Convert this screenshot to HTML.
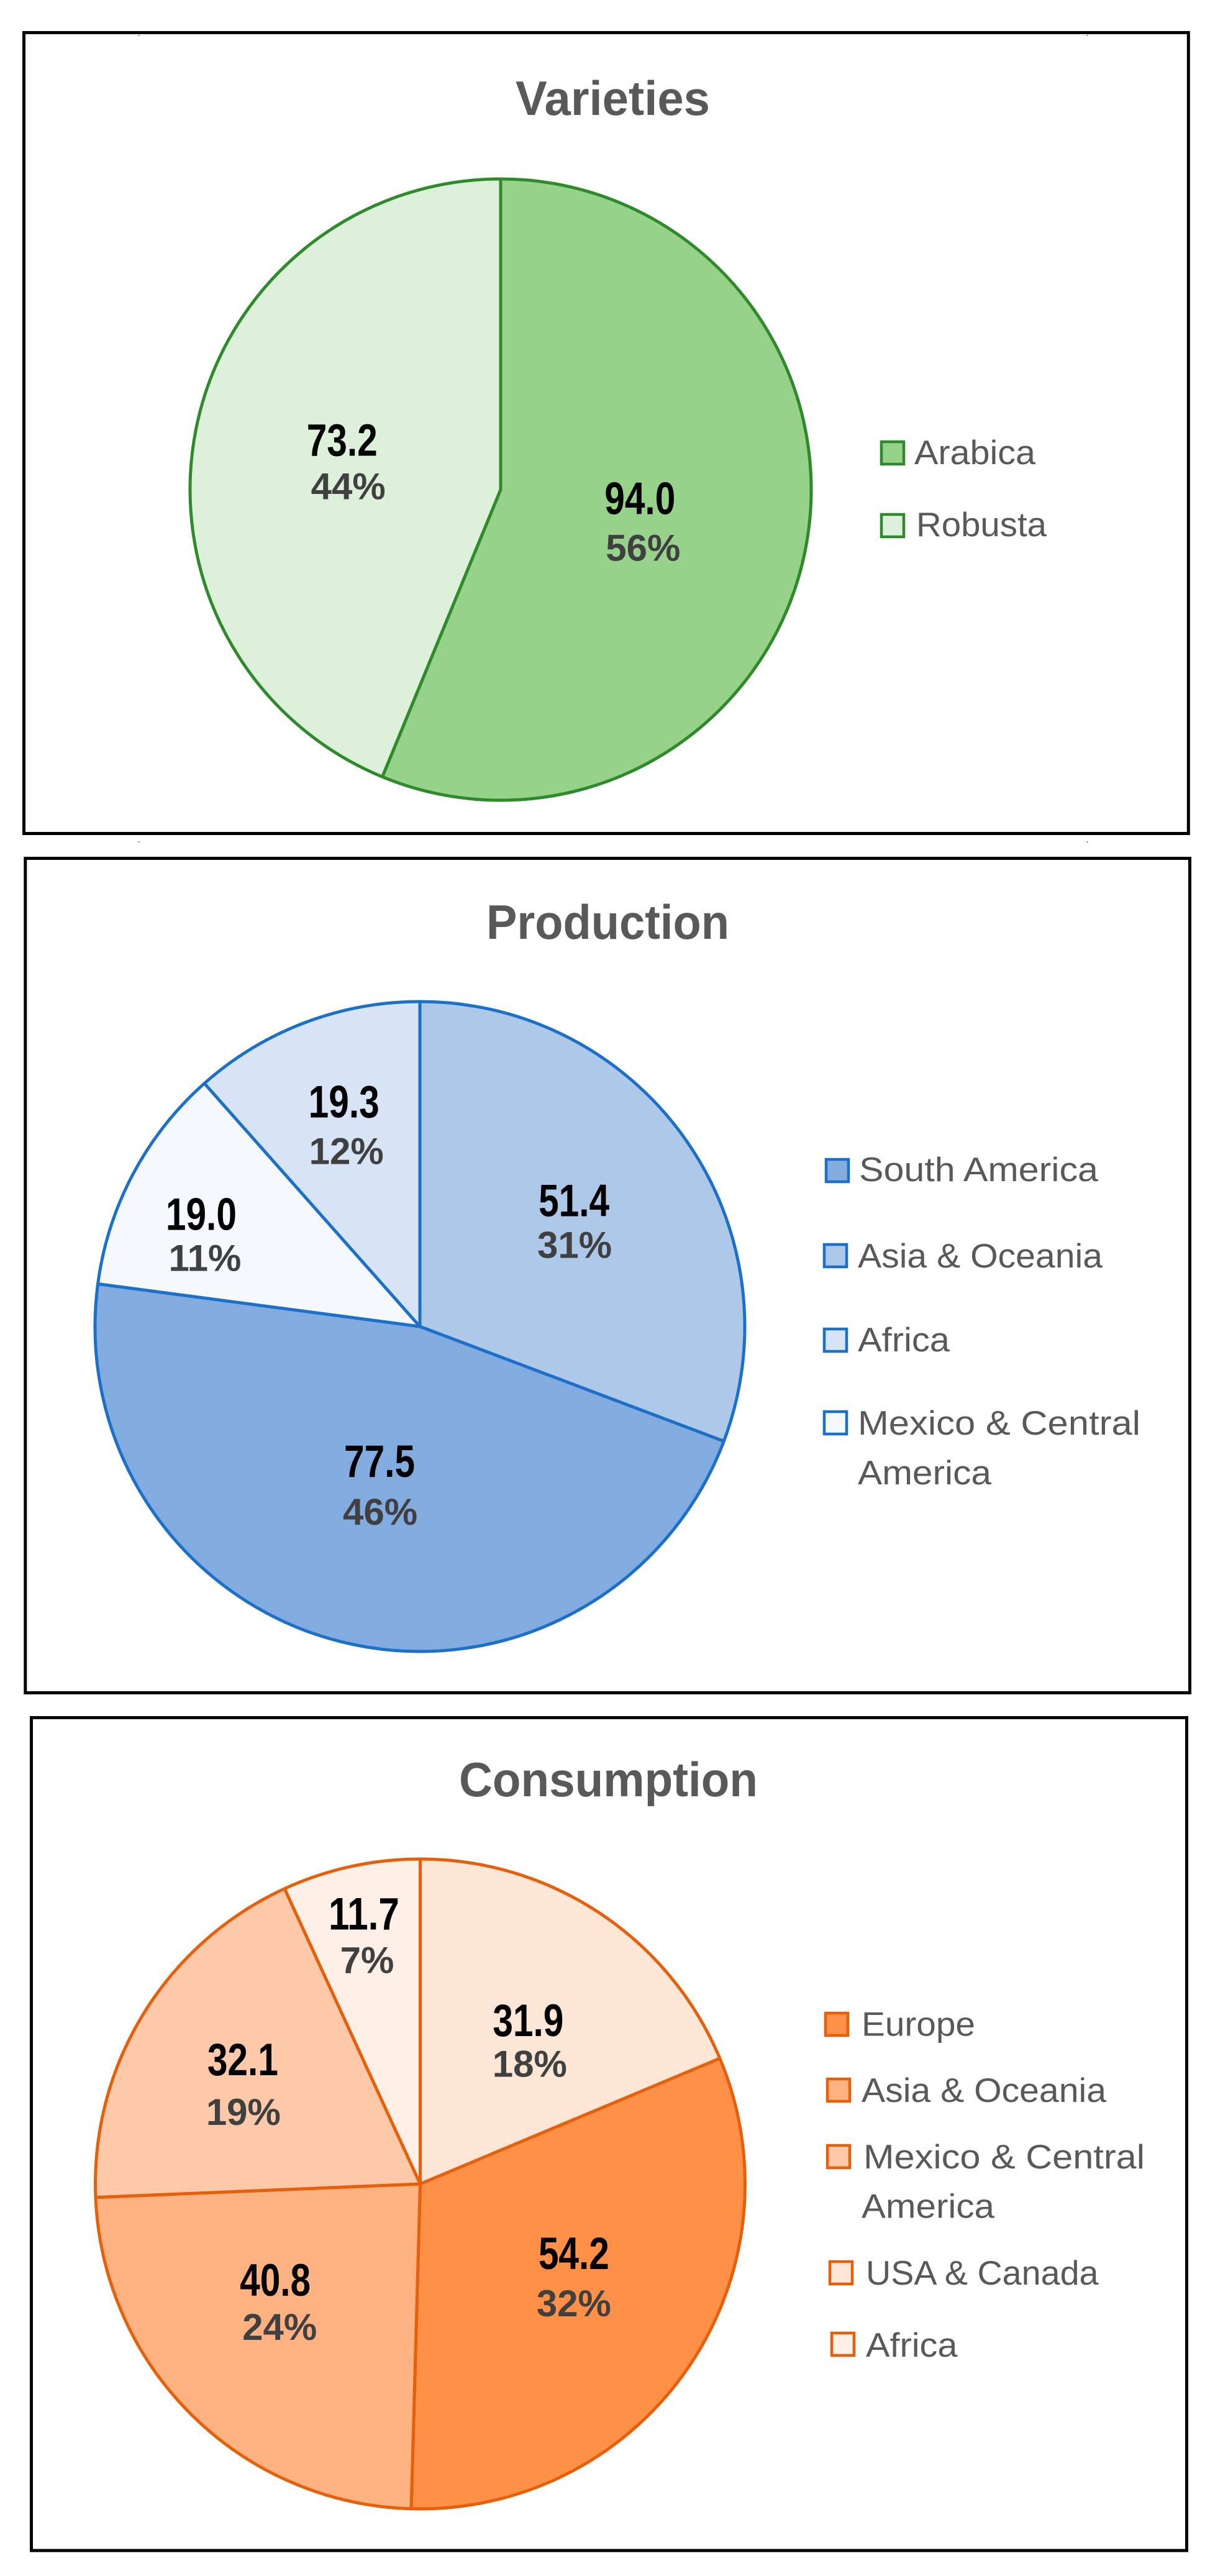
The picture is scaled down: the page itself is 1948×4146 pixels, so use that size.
<!DOCTYPE html>
<html lang="en">
<head>
<meta charset="utf-8">
<title>Coffee: Varieties, Production, Consumption</title>
<style>
  html, body { margin: 0; padding: 0; background: #ffffff; }
  svg { display: block; }
  text { font-family: "Liberation Sans", Arial, sans-serif; }
  .title { font-size: 78px; font-weight: 700; fill: #595959; }
  .value { font-size: 73px; font-weight: 700; fill: #000000; text-anchor: middle; }
  .pct { font-size: 60px; font-weight: 700; fill: #404040; text-anchor: middle; }
  .legend { font-size: 55px; fill: #595959; }
</style>
</head>
<body>
<svg id="figure" xmlns="http://www.w3.org/2000/svg" width="1948" height="4146" viewBox="0 0 1948 4146">
  <rect x="0" y="0" width="1948" height="4146" fill="#ffffff"/>
  <rect x="38.5" y="52.5" width="1874.8" height="1289" fill="none" stroke="#000" stroke-width="5"/>
  <rect x="40.8" y="1381.5" width="1874.7" height="1343" fill="none" stroke="#000" stroke-width="5"/>
  <rect x="50.5" y="2764.5" width="1860" height="1340.5" fill="none" stroke="#000" stroke-width="5"/>
  <rect x="222.5" y="56" width="2" height="2" fill="#777"/>
  <rect x="1749.5" y="56" width="2" height="2" fill="#777"/>
  <rect x="222.5" y="1354" width="2" height="2" fill="#777"/>
  <rect x="1749.5" y="1354" width="2" height="2" fill="#777"/>
</svg>
<script>
// ---- Data ----
const varietiesCategories = ["Arabica", "Robusta"];
const varietiesValues = [94.0, 73.2];
const varietiesPercentLabels = ["56%", "44%"];
const varietiesLegendOrder = ["Arabica", "Robusta"];

const productionCategories = ["Asia & Oceania", "South America", "Mexico & Central America", "Africa"];
const productionValues = [51.4, 77.5, 19.0, 19.3];
const productionPercentLabels = ["31%", "46%", "11%", "12%"];
const productionLegendOrder = ["South America", "Asia & Oceania", "Africa", "Mexico & Central America"];

const consumptionCategories = ["USA & Canada", "Europe", "Asia & Oceania", "Mexico & Central America", "Africa"];
const consumptionValues = [31.9, 54.2, 40.8, 32.1, 11.7];
const consumptionPercentLabels = ["18%", "32%", "24%", "19%", "7%"];
const consumptionLegendOrder = ["Europe", "Asia & Oceania", "Mexico & Central America", "USA & Canada", "Africa"];

// ---- Layout and style (not data) ----
const charts = [
  {
    key: "varieties", title: "Varieties", titleX: 830, titleY: 185, titleLen: 313,
    categories: varietiesCategories, values: varietiesValues, percents: varietiesPercentLabels, legendOrder: varietiesLegendOrder,
    cx: 806, cy: 788, r: 500, stroke: "#2f8a2c",
    fills: { "Arabica": "#96d28a", "Robusta": "#ddf0da" },
    valueNudge: [[-70, -19], [39, 4]],
    pctNudge: [[-65, 56], [49, 74]],
    legend: [
      { sx: 1419, sy: 711, lines: [[1472, 747, 195]] },
      { sx: 1419, sy: 828, lines: [[1475, 863, 210]] }
    ]
  },
  {
    key: "production", title: "Production", titleX: 783, titleY: 1511, titleLen: 391,
    categories: productionCategories, values: productionValues, percents: productionPercentLabels, legendOrder: productionLegendOrder,
    cx: 676, cy: 2135, r: 523, stroke: "#1c70c8",
    fills: { "South America": "#82abdf", "Asia & Oceania": "#aec8e9", "Africa": "#d7e4f5", "Mexico & Central America": "#f5f8fd" },
    valueNudge: [[-10, 1], [11.5, -62.5], [-75, -8], [-11, -43]],
    pctNudge: [[-9, 68], [12.5, 14.5], [-69, 58], [-7, 32]],
    legend: [
      { sx: 1330, sy: 1866, lines: [[1383, 1901, 385]] },
      { sx: 1327, sy: 2003, lines: [[1381, 2040, 394]] },
      { sx: 1327, sy: 2139, lines: [[1381, 2175, 148]] },
      { sx: 1327, sy: 2272, lines: [[1381, 2309, 455], [1381, 2389, 215]] }
    ]
  },
  {
    key: "consumption", title: "Consumption", titleX: 739, titleY: 2891, titleLen: 481,
    categories: consumptionCategories, values: consumptionValues, percents: consumptionPercentLabels, legendOrder: consumptionLegendOrder,
    cx: 676.5, cy: 3515, r: 523, stroke: "#e65f0a",
    fills: { "USA & Canada": "#fee6d7", "Europe": "#fe9048", "Asia & Oceania": "#feb181", "Mexico & Central America": "#fec9a8", "Africa": "#fef0e7" },
    valueNudge: [[0, 23.5], [-11.5, -40.5], [-13, -43.6], [-18, -11], [-23.5, -103]],
    pctNudge: [[2.5, 89], [-11.5, 35.5], [-6, 27.4], [-17, 69], [-18.5, -33]],
    legend: [
      { sx: 1329, sy: 3240, lines: [[1387, 3276.5, 183]] },
      { sx: 1332, sy: 3346, lines: [[1387, 3383, 394]] },
      { sx: 1332, sy: 3453, lines: [[1390, 3490, 453], [1387, 3569.5, 214]] },
      { sx: 1336, sy: 3640, lines: [[1394, 3677, 374.5]] },
      { sx: 1339, sy: 3755, lines: [[1394, 3793, 147.5]] }
    ]
  }
];

const SVG_NS = "http://www.w3.org/2000/svg";
const figure = document.getElementById("figure");
const LABEL_RADIUS = 0.6;
const VALUE_TEXT_LENGTH = 114;

function slug(s) {
  return s.toLowerCase().replace(/&/g, "and").replace(/[^a-z0-9]+/g, "-");
}
function node(tag, attrs, parent) {
  const el = document.createElementNS(SVG_NS, tag);
  for (const k in attrs) el.setAttribute(k, attrs[k]);
  parent.appendChild(el);
  return el;
}
// Axis function: value -> angle in degrees, clockwise from 12 o'clock
function angleScale(values) {
  const total = values.reduce(function (a, b) { return a + b; }, 0);
  return function (v) { return v / total * 360; };
}
function polar(c, radius, deg) {
  const a = deg * Math.PI / 180;
  return [c.cx + radius * Math.sin(a), c.cy - radius * Math.cos(a)];
}

charts.forEach(function (c) {
  const group = node("g", {}, figure);
  
  

  const title = node("text", { x: c.titleX, y: c.titleY, "class": "title", textLength: c.titleLen, lengthAdjust: "spacingAndGlyphs" }, group);
  
  
  title.textContent = c.title;

  const toAngle = angleScale(c.values);
  let start = 0;
  const mids = [];
  c.values.forEach(function (v, i) {
    const span = toAngle(v);
    const end = start + span;
    const p0 = polar(c, c.r, start);
    const p1 = polar(c, c.r, end);
    const large = span > 180 ? 1 : 0;
    const d = "M" + c.cx + " " + c.cy + " L" + p0[0].toFixed(2) + " " + p0[1].toFixed(2) +
              " A" + c.r + " " + c.r + " 0 " + large + " 1 " + p1[0].toFixed(2) + " " + p1[1].toFixed(2) + " Z";
    const slice = node("path", { d: d, fill: c.fills[c.categories[i]], stroke: c.stroke, "stroke-width": 5, "stroke-linejoin": "round" }, group);
    
    
    mids.push(start + span / 2);
    start = end;
  });

  c.values.forEach(function (v, i) {
    const anchor = polar(c, c.r * LABEL_RADIUS, mids[i]);
    const valueLabel = node("text", {
      x: anchor[0] + c.valueNudge[i][0], y: anchor[1] + c.valueNudge[i][1],
      "class": "value", textLength: VALUE_TEXT_LENGTH, lengthAdjust: "spacingAndGlyphs"
    }, group);
    
    
    valueLabel.textContent = v.toFixed(1);

    const pctLabel = node("text", {
      x: anchor[0] + c.pctNudge[i][0], y: anchor[1] + c.pctNudge[i][1], "class": "pct"
    }, group);
    
    
    pctLabel.textContent = c.percents[i];
  });

  const legendGroup = node("g", {}, group);
  
  

  c.legendOrder.forEach(function (name, i) {
    const spec = c.legend[i];
    const entry = node("g", {}, legendGroup);
    
    

    const swatch = node("rect", { x: spec.sx, y: spec.sy, width: 36, height: 36, fill: c.fills[name], stroke: c.stroke, "stroke-width": 4.5 }, entry);
    
    

    // Wrapped names are split over the configured number of lines
    const words = spec.lines.length === 2 ? [name.slice(0, name.lastIndexOf(" ")), name.slice(name.lastIndexOf(" ") + 1)] : [name];
    spec.lines.forEach(function (line, j) {
      const label = node("text", { x: line[0], y: line[1], "class": "legend", textLength: line[2], lengthAdjust: "spacingAndGlyphs" }, entry);
      
      
      label.textContent = words[j];
    });
  });
});
</script>
</body>
</html>
